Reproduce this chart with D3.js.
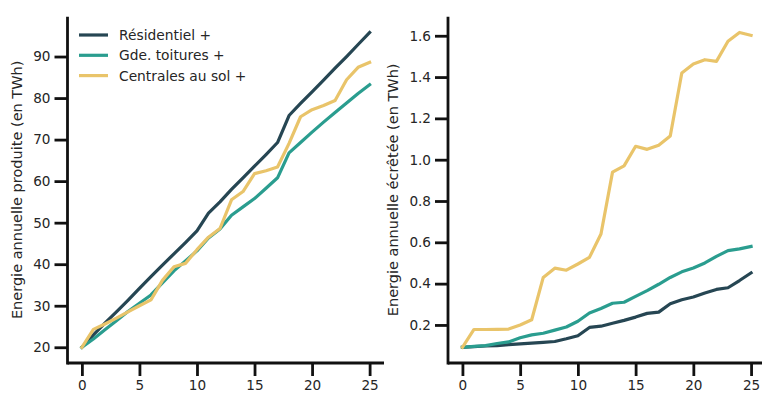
<!DOCTYPE html>
<html><head><meta charset="utf-8">
<script src="https://cdn.jsdelivr.net/npm/d3@7"></script>
<style>
body{margin:0;background:#fff;}
svg{display:block;font-family:"DejaVu Sans",sans-serif;}
</style></head>
<body><svg id="c" width="762" height="397"></svg>
<script>
const years = d3.range(0, 26);
const seriesNames = ["Résidentiel +", "Gde. toitures +", "Centrales au sol +"];
const colors = ["#264653", "#2a9d8f", "#e9c46a"];

// Energie annuelle produite (TWh)
const prodResidentiel = [20,23,25.8,28.5,31.3,34.2,37,39.8,42.5,45.2,48,52.3,55,58,60.8,63.6,66.4,69.3,75.8,78.7,81.5,84.3,87.2,90,92.9,95.8];
const prodToitures = [20,22,24.2,26.4,28.6,30.6,32.6,35.5,38.4,40.8,43.2,46.3,48.5,51.8,53.8,55.8,58.3,60.8,66.8,69.3,71.8,74.2,76.5,78.8,81.1,83.2];
const prodSol = [20,24.3,25.6,27,28.5,30,31.4,36.1,39.4,40.2,43.5,46.5,48.6,55.5,57.5,61.8,62.5,63.4,69.1,75.5,77.2,78.2,79.4,84.4,87.4,88.6];

// Energie annuelle écrêtée (TWh)
const ecrResidentiel = [0.092,0.095,0.098,0.1,0.105,0.108,0.112,0.116,0.12,0.133,0.148,0.188,0.194,0.208,0.222,0.238,0.256,0.262,0.303,0.322,0.335,0.355,0.372,0.38,0.415,0.452];
const ecrToitures = [0.092,0.096,0.1,0.11,0.118,0.138,0.152,0.16,0.175,0.19,0.218,0.258,0.28,0.305,0.31,0.338,0.366,0.397,0.43,0.457,0.476,0.5,0.532,0.56,0.568,0.58];
const ecrSol = [0.092,0.178,0.178,0.179,0.18,0.2,0.225,0.43,0.475,0.465,0.495,0.527,0.64,0.94,0.97,1.065,1.05,1.07,1.115,1.42,1.463,1.484,1.476,1.573,1.616,1.602];

const xTicks = [0,5,10,15,20,25];
const leftYTicks = [20,30,40,50,60,70,80,90];
const rightYTicks = [0.2,0.4,0.6,0.8,1.0,1.2,1.4,1.6];

const svg = d3.select("#c");
const TXT = "#262626";

function padded(ext){ const m=(ext[1]-ext[0])*0.05; return [ext[0]-m, ext[1]+m]; }

function panel(opts){
  const {x0,x1,yTop,yBot,series,yTicks,fmt,label,labelX,legend} = opts;
  const x = d3.scaleLinear().domain(padded([0,25])).range([x0,x1]);
  const all = series.flat();
  const y = d3.scaleLinear().domain(padded(d3.extent(all))).range([yBot,yTop]);
  const g = svg.append("g");

  const line = d3.line().x((d,i)=>x(years[i])).y(d=>y(d));
  series.forEach((s,k)=>{
    g.append("path").datum(s).attr("d",line).attr("fill","none")
      .attr("stroke",colors[k]).attr("stroke-width",3.2)
      .attr("stroke-linejoin","round").attr("stroke-linecap","square");
  });

  const xa = g.append("g").attr("transform",`translate(0,${yBot})`)
    .call(d3.axisBottom(x).tickValues(xTicks).tickSize(13).tickPadding(4).tickFormat(d3.format("d")));
  const ya = g.append("g").attr("transform",`translate(${x0},0)`)
    .call(d3.axisLeft(y).tickValues(yTicks).tickSize(13).tickPadding(4).tickFormat(fmt));
  [xa,ya].forEach(a=>{
    a.select(".domain").remove();
    a.selectAll(".tick line").attr("stroke","#111").attr("stroke-width",2.8);
    a.selectAll(".tick text").attr("fill",TXT).style("font-size","13.6px").style("font-family","DejaVu Sans");
  });
  g.append("line").attr("x1",x0).attr("x2",x1).attr("y1",yBot).attr("y2",yBot).attr("stroke","#111").attr("stroke-width",2.8);
  g.append("line").attr("x1",x0).attr("x2",x0).attr("y1",yTop).attr("y2",yBot+1.4).attr("stroke","#111").attr("stroke-width",2.8);

  g.append("text").attr("transform",`translate(${labelX},${(yTop+yBot)/2}) rotate(-90)`)
    .attr("text-anchor","middle").attr("dominant-baseline","central")
    .attr("fill",TXT).style("font-size","14.5px").text(label);

  if(legend){
    const lg = g.append("g");
    seriesNames.forEach((n,k)=>{
      const yy = 35 + k*20.3;
      lg.append("line").attr("x1",79).attr("x2",108).attr("y1",yy).attr("y2",yy)
        .attr("stroke",colors[k]).attr("stroke-width",3.2);
      lg.append("text").attr("x",119).attr("y",yy).attr("dominant-baseline","central")
        .attr("fill",TXT).style("font-size","13.8px").text(n);
    });
  }
}

panel({x0:67.5,x1:384,yTop:16.7,yBot:363,series:[prodResidentiel,prodToitures,prodSol],
  yTicks:leftYTicks,fmt:d3.format("d"),label:"Energie annuelle produite (en TWh)",labelX:17,legend:true});
panel({x0:448,x1:765.5,yTop:16.7,yBot:363,series:[ecrResidentiel,ecrToitures,ecrSol],
  yTicks:rightYTicks,fmt:d3.format(".1f"),label:"Energie annuelle écrêtée (en TWh)",labelX:393,legend:false});
</script></body></html>
